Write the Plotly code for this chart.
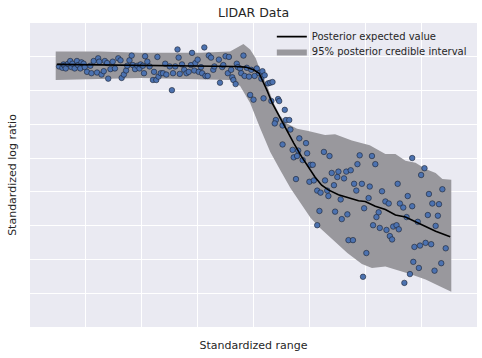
import plotly.graph_objects as go

obs_x = [-1.74,-1.71,-1.70,-1.69,-1.68,-1.66,-1.64,-1.63,-1.62,-1.60,-1.58,-1.57,-1.55,-1.54,-1.52,-1.51,-1.49,-1.46,-1.45,-1.43,
         -1.40,-1.39,-1.38,-1.36,-1.34,-1.33,-1.31,-1.30,-1.28,-1.26,-1.24,-1.21,-1.19,-1.18,-1.16,-1.14,-1.13,-1.11,-1.09,-1.08,
         -1.06,-1.04,-1.02,-1.01,-0.99,-0.97,-0.98,-0.95,-0.93,-0.90,-0.89,-0.87,-0.86,-0.85,-0.83,-0.81,-0.79,-0.78,-0.75,-0.73,
         -0.72,-0.70,-0.68,-0.67,-0.66,-0.64,-0.62,-0.60,-0.58,-0.56,-0.55,-0.53,-0.52,-0.50,-0.49,-0.47,-0.46,-0.44,-0.43,-0.41,
         -0.40,-0.38,-0.36,-0.35,-0.31,-0.30,-0.28,-0.27,-0.25,-0.23,-0.22,-0.20,-0.19,-0.18,-0.15,-0.14,-0.16,-0.12,-0.11,-0.09,
         -0.08,-0.06,-0.04,-0.02,0.01,0.03,0.05,-0.03,0.00,0.07,0.08,0.10,0.09,0.13,0.15,0.17,0.16,0.22,0.23,0.28,
         0.20,0.19,0.29,0.32,0.26,0.33,0.26,0.41,0.35,0.40,0.36,0.39,0.44,0.47,0.48,0.51,0.53,0.38,0.50,0.54,
         0.63,0.68,0.64,0.57,0.60,0.66,0.67,0.72,0.70,0.75,0.76,0.81,0.83,0.87,0.59,0.73,0.57,0.79,0.84,0.78,
         0.90,0.92,0.97,0.93,0.95,0.85,0.89,0.99,1.03,1.04,1.01,0.98,1.06,1.09,1.15,1.18,1.21,1.12,1.10,1.07,
         1.13,1.19,1.25,1.28,1.30,1.22,1.24,1.29,1.31,1.34,1.37,1.38,1.42,1.42,1.47,1.50,1.53,1.57,1.56,1.60,
         1.63,1.66,1.65,1.69,1.72,1.44,1.49,1.54,1.59,1.43,1.48,1.40,1.35,1.62,1.68]
obs_y = [0.85,0.83,0.88,0.86,0.82,0.89,0.93,0.84,0.89,0.82,0.93,0.87,0.82,0.91,0.89,0.84,0.77,0.86,0.75,0.93,
         0.76,0.97,0.92,0.73,0.78,0.93,0.90,0.67,0.81,0.92,0.82,0.97,0.94,0.68,0.73,0.79,0.86,0.94,1.01,0.87,
         0.81,0.86,0.82,0.88,0.86,1.00,0.75,0.92,0.85,0.65,0.77,0.65,0.99,0.70,0.75,0.75,0.89,0.73,0.85,0.50,
         0.75,0.85,1.10,0.98,0.74,0.88,0.80,0.75,0.77,0.87,1.05,0.79,0.90,0.95,0.77,0.84,0.75,1.13,0.71,0.71,
         1.01,0.98,0.80,0.85,0.95,0.61,0.84,0.87,1.00,0.75,0.99,0.80,0.69,0.65,0.89,0.84,0.59,0.82,0.75,1.01,
         0.71,0.83,0.70,0.80,0.71,0.82,0.75,0.43,0.36,0.67,0.78,0.72,0.38,0.60,0.61,0.62,0.34,0.37,0.34,0.21,
         0.06,0.01,0.06,0.06,-0.02,-0.08,-0.30,-0.21,-0.38,-0.39,-0.49,-0.47,-0.53,-0.28,-0.43,-0.60,-0.60,-0.81,-0.85,-0.83,
         -0.41,-0.47,-0.83,-0.98,-1.01,-0.98,-1.06,-0.90,-0.72,-0.78,-0.70,-0.80,-0.70,-0.68,-1.28,-1.29,-1.49,-1.40,-1.33,-1.11,
         -0.88,-0.98,-0.88,-0.59,-0.46,-1.71,-1.71,-1.24,-1.09,-0.92,-1.90,-2.25,-0.47,-0.59,-0.99,-1.14,-1.17,-1.30,-1.37,-1.49,
         -1.53,-1.56,-1.51,-1.49,-1.55,-1.65,-1.70,-0.88,-1.17,-1.23,-1.37,-1.06,-0.50,-1.21,-1.44,-0.75,-0.65,-1.03,-1.34,-1.17,
         -1.50,-1.18,-1.35,-0.96,-1.83,-1.81,-1.79,-1.75,-1.77,-2.03,-2.12,-2.21,-2.34,-2.16,-2.05]

# Posterior expected value
mean_x = [-1.76,-1.00,-0.16,-0.07,0.00,0.05,0.08,0.12,0.17,0.23,0.29,0.36,0.43,0.49,0.55,0.61,0.67,0.76,0.85,0.94,
          1.00,1.09,1.18,1.27,1.36,1.45,1.54,1.63,1.76]
mean_y = [0.88,0.87,0.85,0.84,0.80,0.75,0.65,0.50,0.30,0.11,-0.06,-0.28,-0.48,-0.63,-0.78,-0.90,-0.97,-1.04,-1.09,-1.13,
          -1.14,-1.21,-1.26,-1.34,-1.37,-1.44,-1.51,-1.58,-1.66]

# 95% posterior credible interval
upper_x = [-1.77,-1.37,-1.01,-0.47,-0.21,-0.14,-0.09,-0.03,0.02,0.06,0.13,0.18,0.24,0.30,0.39,0.49,0.64,0.73,0.88,1.04,
           1.18,1.27,1.36,1.45,1.54,1.63,1.69,1.77]
upper_y = [1.07,1.07,1.05,1.05,1.07,1.13,1.18,1.10,0.97,0.79,0.53,0.31,0.12,0.01,-0.07,-0.10,-0.16,-0.15,-0.24,-0.31,
           -0.44,-0.44,-0.54,-0.57,-0.66,-0.72,-0.81,-0.82]
lower_x = [-1.77,-1.01,-0.21,-0.12,-0.03,0.06,0.15,0.24,0.33,0.42,0.51,0.60,0.69,0.84,0.97,1.06,1.18,1.29,1.40,1.54,
           1.68,1.77]
lower_y = [0.65,0.68,0.65,0.56,0.31,-0.06,-0.41,-0.68,-0.94,-1.16,-1.38,-1.54,-1.68,-1.90,-2.06,-2.12,-2.10,-2.15,-2.21,-2.29,
           -2.40,-2.47]

TEXT = "#262626"
FONT = "DejaVu Sans"
BAND = "rgb(153,152,157)"

fig = go.Figure()

fig.add_trace(go.Scatter(
    x=upper_x + lower_x[::-1], y=upper_y + lower_y[::-1],
    mode="lines", fill="toself", fillcolor=BAND,
    line=dict(width=0, color=BAND),
    name="95% posterior credible interval", legend="legend2", hoverinfo="skip"))

fig.add_trace(go.Scatter(
    x=obs_x, y=obs_y, mode="markers", showlegend=False,
    marker=dict(size=5.5, color="#4C72B0", line=dict(width=0.6, color="#1b2230"))))

fig.add_trace(go.Scatter(
    x=mean_x, y=mean_y, mode="lines", line=dict(color="black", width=1.6),
    name="Posterior expected value", legend="legend"))

legend_common = dict(xanchor="left", yanchor="top", bgcolor="rgba(0,0,0,0)",
                     font=dict(size=10, color=TEXT, family=FONT), itemwidth=30)

fig.update_layout(
    width=482, height=358,
    margin=dict(l=30, r=5, t=23, b=31, autoexpand=False),
    paper_bgcolor="white", plot_bgcolor="#EAEAF2",
    font=dict(family=FONT, color=TEXT, size=11),
    title=dict(text="LIDAR Data", x=0.526, xanchor="center", y=0.966, yanchor="middle",
               font=dict(size=12.5, color=TEXT, family=FONT)),
    legend=dict(x=0.541, y=1.003, **legend_common),
    legend2=dict(x=0.541, y=0.954, **legend_common),
    showlegend=True,
)
fig.update_xaxes(range=[-2, 2], tick0=0, dtick=0.5, showticklabels=False, ticks="",
                 showgrid=True, gridcolor="white", gridwidth=1, zeroline=False, showline=False,
                 title=dict(text="Standardized range", font=dict(size=11, color=TEXT), standoff=14),
                 automargin=False)
fig.update_yaxes(range=[-2.99, 1.49], tick0=0, dtick=0.5, showticklabels=False, ticks="",
                 showgrid=True, gridcolor="white", gridwidth=1, zeroline=False, showline=False,
                 title=dict(text="Standardized log ratio", font=dict(size=11, color=TEXT), standoff=10),
                 automargin=False)

fig.write_html("out.html", config={"displayModeBar": False},
               post_script="document.body.style.margin='0';")
